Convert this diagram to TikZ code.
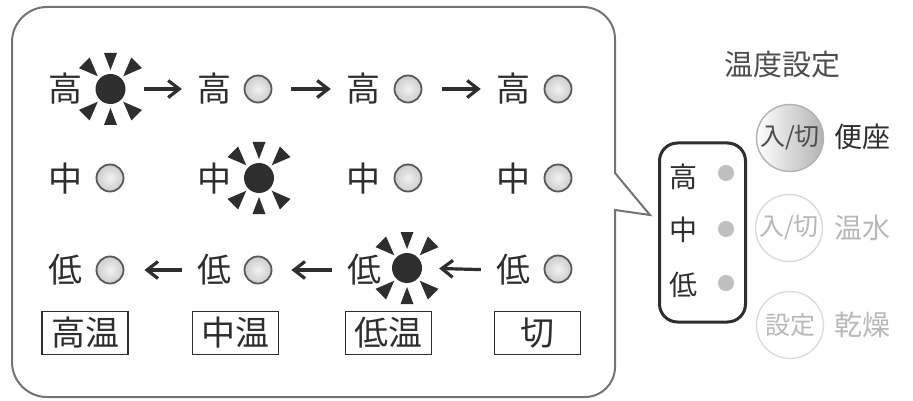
\documentclass[tikz,border=0pt]{standalone}
\usepackage{fontspec}
\setmainfont{Noto Sans CJK JP}
\usetikzlibrary{arrows.meta}
\definecolor{ink}{gray}{0.18}
\definecolor{frame}{gray}{0.45}
\definecolor{faint}{gray}{0.72}
\definecolor{faintline}{gray}{0.86}
\tikzset{
  ch/.style={inner sep=0pt, text=ink, font=\fontsize{34}{34}\selectfont},
  lamp/.style={circle, draw=gray!70!black, line width=1.8pt, inner color=gray!10, outer color=gray!40, minimum size=27pt, inner sep=0pt},
  sun/.style={circle, fill=ink, minimum size=30pt, inner sep=0pt},
  arr/.style={draw=ink, line width=3.2pt, -{Straight Barb[length=11pt,width=17pt,line width=3.2pt]}},
  modebox/.style={draw=ink, line width=1.2pt, minimum width=86pt, minimum height=43pt, inner sep=0pt, text=ink, font=\fontsize{34}{34}\selectfont},
  callout/.style={draw=frame, line width=2pt},
  lab/.style={inner sep=0pt, font=\fontsize{28}{28}\selectfont},
  btn/.style={circle, minimum size=67pt, inner sep=0pt, line width=1.4pt, font=\fontsize{25}{25}\selectfont},
  dot/.style={circle, fill=gray!50, minimum size=16pt, inner sep=0pt},
  disp/.style={draw=ink, line width=3pt, rounded corners=18pt, minimum width=86pt, minimum height=179pt, inner sep=0pt}
}
\newcommand{\sunrays}[1]{%
  \begin{scope}[shift={(#1)}]
    \foreach \a in {90,270}{\fill[ink, rotate=\a] (19,0) -- (36,-6.5) -- (36,6.5) -- cycle;}
    \foreach \a in {45,135,225,315}{\fill[ink, rotate=\a] (18,0) -- (37,-7.5) -- (37,7.5) -- cycle;}
  \end{scope}}
\begin{document}
\begin{tikzpicture}[x=1pt,y=-1pt]
\useasboundingbox (0,0) rectangle (913,401);
\fill[white] (0,0) rectangle (913,401);
% callout
\draw[callout] (12,42) .. controls (12,22.7) and (27.7,7) .. (47,7) -- (583,7)
  .. controls (600.7,7) and (615,21.3) .. (615,39) -- (615,173) -- (650,215) -- (615,210)
  -- (615,367) .. controls (615,383.6) and (601.6,397) .. (585,397) -- (47,397)
  .. controls (27.7,397) and (12,381.3) .. (12,362) -- cycle;
% row 1
\node[ch] (c11) at (65,89) {高};
\node[sun] (l11) at (110.5,89) {};
\sunrays{110.5,89}
\node[ch] (c12) at (214,89) {高};
\node[lamp] (l12) at (258,89) {};
\node[ch] (c13) at (363,89) {高};
\node[lamp] (l13) at (408,89) {};
\node[ch] (c14) at (513,89) {高};
\node[lamp] (l14) at (558,89) {};
\draw[arr, shorten <=18pt, shorten >=15pt] (l11.east) -- (c12.west);
\draw[arr, shorten <=19pt, shorten >=15pt] (l12.east) -- (c13.west);
\draw[arr, shorten <=20pt, shorten >=15pt] (l13.east) -- (c14.west);
% row 2
\node[ch] (c21) at (65,179) {中};
\node[lamp] (l21) at (110,178) {};
\node[ch] (c22) at (214,179) {中};
\node[sun] (l22) at (259,178) {};
\sunrays{259,178}
\node[ch] (c23) at (363,179) {中};
\node[lamp] (l23) at (408,178) {};
\node[ch] (c24) at (513,179) {中};
\node[lamp] (l24) at (558,178) {};
% row 3
\node[ch] (c31) at (65,270) {低};
\node[lamp] (l31) at (110,270) {};
\node[ch] (c32) at (214,270) {低};
\node[lamp] (l32) at (258,270) {};
\node[ch] (c33) at (364,270) {低};
\node[sun] (l33) at (407,268) {};
\sunrays{407,268}
\node[ch] (c34) at (513,270) {低};
\node[lamp] (l34) at (558,269) {};
\draw[arr, shorten <=15pt, shorten >=20pt] (c32.west) -- (l31.east);
\draw[arr, shorten <=15pt, shorten >=19pt] (c33.west) -- (l32.east);
\draw[arr, shorten <=15pt, shorten >=17pt] (c34.west) -- (l33.east);
% mode boxes
\node[modebox] (m1) at (85,333) {高温};
\node[modebox] (m2) at (235.5,333) {中温};
\node[modebox] (m3) at (388.5,333) {低温};
\node[modebox] (m4) at (537.5,333) {切};
% display
\node[disp] (disp) at (702.5,232.5) {};
\node[lab, text=ink] (dh) at (683,177) {高};
\node[dot] (dh1) at (726,173) {};
\node[lab, text=ink] (dm) at (683,230) {中};
\node[dot] (dm1) at (726,229) {};
\node[lab, text=ink] (dl) at (683,285) {低};
\node[dot] (dl1) at (726,283) {};
% right panel
\node[lab, text=ink!85, font=\fontsize{29}{29}\selectfont] (title) at (782,65) {温度設定};
\node[btn, draw=gray!60, left color=white, right color=gray!60, text=ink!85] (b1) at (790,138) {入/切};
\node[lab, text=ink] (t1) at (862,137) {便座};
\node[btn, draw=faintline, text=faint] (b2) at (789,228) {入/切};
\node[lab, text=faint] (t2) at (862,228) {温水};
\node[btn, draw=faintline, text=faint] (b3) at (790,325) {設定};
\node[lab, text=faint] (t3) at (862,325) {乾燥};
\end{tikzpicture}
\end{document}
